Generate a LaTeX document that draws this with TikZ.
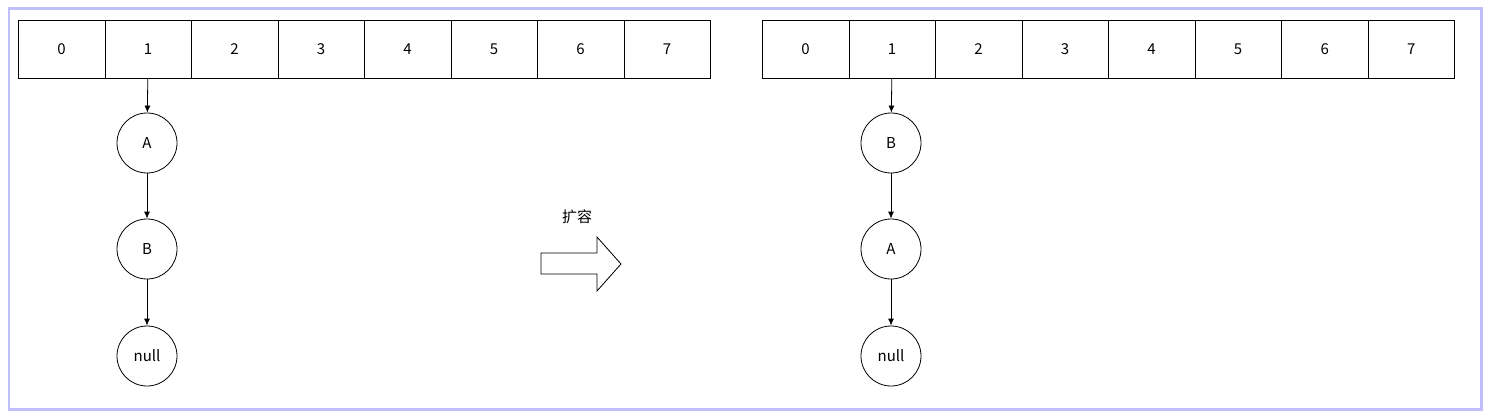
\documentclass[tikz,border=0pt]{standalone}
\usetikzlibrary{arrows.meta}
\usepackage{fontspec}
\setmainfont{Noto Sans CJK SC}
\begin{document}
\begin{tikzpicture}[x=1pt,y=-1pt,
  cell/.style={draw,thick,minimum width=86.5pt,minimum height=58pt,inner sep=0pt,font=\fontsize{15}{18}\selectfont,anchor=north west},
  nd/.style={draw,thick,circle,minimum size=60pt,inner sep=0pt,font=\fontsize{15}{18}\selectfont},
  ar/.style={thick,-{Latex[length=7pt,width=6pt]}}]
\useasboundingbox (0,0) rectangle (1492,417);
\fill[white] (0,0) rectangle (1492,417);
\draw[color=blue!25,line width=3pt] (9,9) rectangle (1481,409);
\fill[white] (10,10) rectangle (1480,408);
\foreach \i in {0,...,7}{
  \node[cell] (l\i) at ({18+86.5*\i},20) {\i};
  \node[cell] (r\i) at ({762+86.5*\i},20) {\i};
}
\node[nd] (la) at (147,143) {A};
\node[nd] (lb) at (147,249) {B};
\node[nd] (ln) at (147,356) {null};
\node[nd] (rb) at (891,143) {B};
\node[nd] (ra) at (891,249) {A};
\node[nd] (rn) at (891,356) {null};
\draw[ar] (l1) -- (la); \draw[ar] (la) -- (lb); \draw[ar] (lb) -- (ln);
\draw[ar] (r1) -- (rb); \draw[ar] (rb) -- (ra); \draw[ar] (ra) -- (rn);
\node[font=\fontsize{15}{18}\selectfont] (t) at (577,217) {扩容};
\draw[thick] (541,253) -- (597,253) -- (597,237) -- (621,264) -- (597,291) -- (597,274) -- (541,274) -- cycle;
\end{tikzpicture}
\end{document}
